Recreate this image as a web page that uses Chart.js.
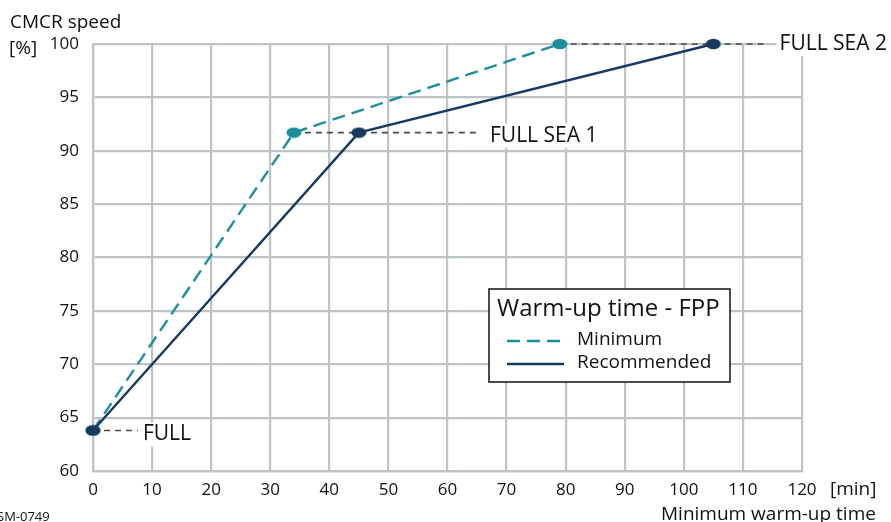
<!DOCTYPE html>
<html><head><meta charset="utf-8">
<script src="https://cdn.jsdelivr.net/npm/chart.js@4/dist/chart.umd.min.js"></script>
<style>html,body{margin:0;padding:0;background:#fff}#wrap{width:891px;height:522px;position:relative}</style>
</head><body><div id="wrap"><canvas id="c" width="891" height="522"></canvas></div>
<script>
const minutesMinimum = [0, 34, 79];
const speedMinimum = [63.8, 91.7, 100];
const minutesRecommended = [0, 45, 105];
const speedRecommended = [63.8, 91.7, 100];
const xTickValues = [0,10,20,30,40,50,60,70,80,90,100,110,120];
const yTickValues = [60,65,70,75,80,85,90,95,100];
const markerLabels = ['FULL', 'FULL SEA 1', 'FULL SEA 2'];
const markerStartX = [0, 34, 79];
const markerEndX = [7.6, 65.5, 114.0];
const markerY = [63.8, 91.7, 100];

const TEAL = '#1d8e9b';
const NAVY = '#183a5f';
const GRID = '#bcc4c7';
const FONT = '"Open Sans", "Noto Sans", sans-serif';
const LABEL_GAP = [5, 10, 13];
const LABEL_DY = [4, 3, 0];

function ellipse(color){
  const c = document.createElement('canvas');
  c.width = 16; c.height = 12;
  const g = c.getContext('2d');
  g.fillStyle = color;
  g.beginPath(); g.ellipse(8, 6, 7.5, 5.2, 0, 0, Math.PI*2); g.fill();
  return c;
}

const refSets = markerLabels.map((l, i) => ({
  label: l,
  data: [{x: markerStartX[i], y: markerY[i]}, {x: markerEndX[i], y: markerY[i]}],
  borderColor: '#4a4a4a', borderWidth: 1.6, borderDash: [6, 5],
  pointRadius: 0, clip: false, order: 3
}));

const data = {
  datasets: [
    ...refSets,
    {
      label: 'Minimum',
      data: minutesMinimum.map((x, i) => ({x, y: speedMinimum[i]})),
      borderColor: TEAL, borderWidth: 2.4, borderDash: [13, 7],
      pointStyle: ellipse(TEAL), pointRadius: 6, clip: false, order: 2
    },
    {
      label: 'Recommended',
      data: minutesRecommended.map((x, i) => ({x, y: speedRecommended[i]})),
      borderColor: NAVY, borderWidth: 2.4,
      pointStyle: ellipse(NAVY), pointRadius: 6, clip: false, order: 1
    }
  ]
};

const labelBgPlugin = {
  id: 'labelBg',
  beforeDatasetsDraw(chart){
    const g = chart.ctx, xs = chart.scales.x, ys = chart.scales.y;
    g.save();
    g.font = '21px ' + FONT;
    g.fillStyle = '#fff';
    markerLabels.forEach((l, i) => {
      const x0 = xs.getPixelForValue(markerEndX[i]) + LABEL_GAP[i] - 3;
      const yc = ys.getPixelForValue(markerY[i]) + LABEL_DY[i];
      g.fillRect(x0, yc - 12, g.measureText(l).width + 8, 24);
    });
    g.restore();
  }
};

const textPlugin = {
  id: 'texts',
  afterDraw(chart){
    const g = chart.ctx, xs = chart.scales.x, ys = chart.scales.y;
    g.save();
    g.fillStyle = '#111';
    g.textBaseline = 'middle';
    g.textAlign = 'left';
    g.font = '21px ' + FONT;
    markerLabels.forEach((l, i) => {
      g.fillText(l, xs.getPixelForValue(markerEndX[i]) + LABEL_GAP[i], ys.getPixelForValue(markerY[i]) + LABEL_DY[i]);
    });
    g.font = '19px ' + FONT;
    g.fillText('CMCR speed', 10, 23);
    g.fillText('[%]', 9, 49);
    g.fillText('[min]', 830, 490);
    g.fillText('Minimum warm-up time', 661, 515);
    g.font = '13px ' + FONT;
    g.fillText('SM-0749', -3, 517);
    // legend box
    const bx = 489, by = 289, bw = 241, bh = 93;
    g.fillStyle = '#fff';
    g.fillRect(bx, by, bw, bh);
    g.strokeStyle = '#111'; g.lineWidth = 1.5;
    g.strokeRect(bx, by, bw, bh);
    g.fillStyle = '#111';
    g.font = '24px ' + FONT;
    g.fillText('Warm-up time - FPP', 497, 309);
    g.font = '19px ' + FONT;
    g.fillText('Minimum', 577, 340);
    g.fillText('Recommended', 577, 363);
    g.lineWidth = 2.4;
    g.strokeStyle = TEAL; g.setLineDash([13, 7]);
    g.beginPath(); g.moveTo(507, 341); g.lineTo(564, 341); g.stroke();
    g.strokeStyle = NAVY; g.setLineDash([]);
    g.beginPath(); g.moveTo(507, 364); g.lineTo(564, 364); g.stroke();
    g.restore();
  }
};

new Chart(document.getElementById('c'), {
  type: 'line',
  data,
  plugins: [labelBgPlugin, textPlugin],
  options: {
    responsive: false, animation: false,
    layout: {padding: {top: 44, right: 89, left: 0, bottom: 0}},
    plugins: {legend: {display: false}, tooltip: {enabled: false}},
    scales: {
      x: {
        type: 'linear', min: 0, max: 120,
        afterBuildTicks: s => { s.ticks = xTickValues.map(v => ({value: v})); },
        afterFit: s => { s.height = 51; },
        grid: {color: GRID, lineWidth: 2.2, drawTicks: false},
        border: {color: GRID, width: 2.2},
        ticks: {color: '#111', font: {size: 17, family: FONT}, padding: 9, maxRotation: 0}
      },
      y: {
        type: 'linear', min: 60, max: 100,
        afterBuildTicks: s => { s.ticks = yTickValues.map(v => ({value: v})); },
        afterFit: s => { s.width = 93; },
        grid: {color: GRID, lineWidth: 2.2, drawTicks: false},
        border: {color: GRID, width: 2.2},
        ticks: {color: '#111', font: {size: 17, family: FONT}, padding: 14}
      }
    }
  }
});
</script></body></html>
